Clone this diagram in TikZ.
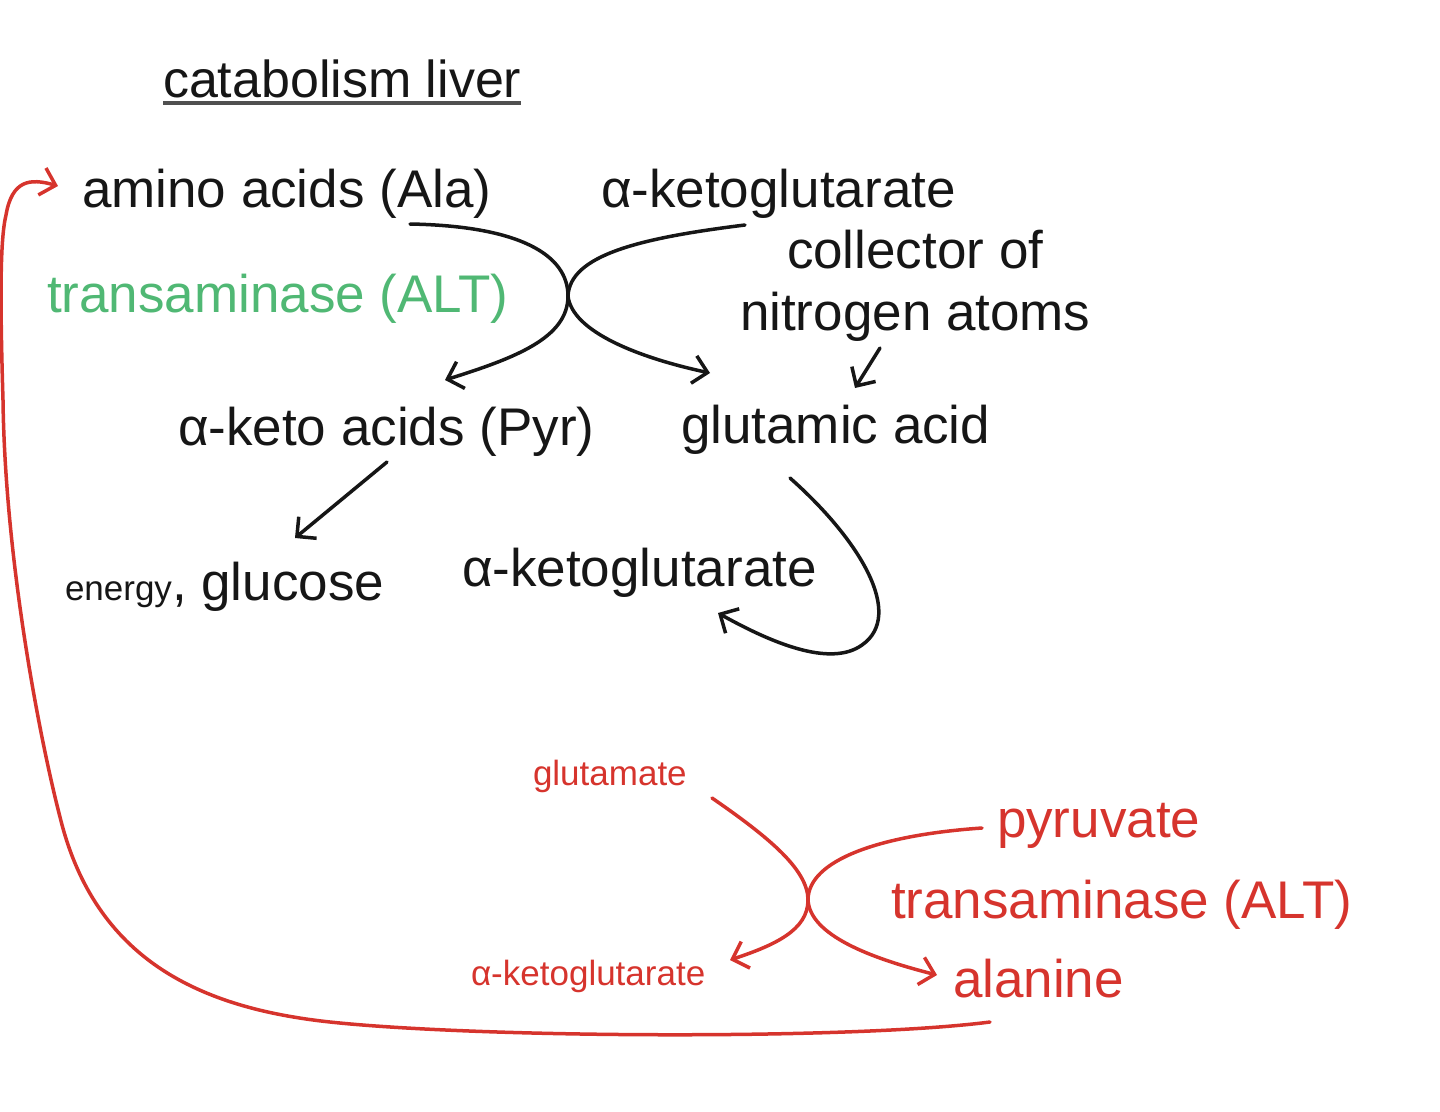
\documentclass[tikz,border=0pt]{standalone}
\usepackage{fontspec}
\setmainfont{Liberation Sans}
\usetikzlibrary{arrows.meta}
\definecolor{ink}{RGB}{22,22,22}
\definecolor{redink}{RGB}{214,52,45}
\definecolor{greenink}{RGB}{80,184,116}
\tikzset{
  lbl/.style={anchor=base west, inner sep=0pt, outer sep=0pt, text=ink, font=\fontsize{53}{60}\selectfont},
  smalltext/.style={font=\fontsize{35}{40}\selectfont},
  blk/.style={draw=ink, line width=3.5pt, line cap=round, -{Straight Barb[length=14pt,width=28pt]}},
  redline/.style={draw=redink, line width=3.5pt, line cap=round, -{Straight Barb[length=14pt,width=28pt]}},
}
\begin{document}
\begin{tikzpicture}[x=1pt,y=-1pt]
\useasboundingbox (0,0) rectangle (1440,1111);
% texts
\node[lbl, font=\fontsize{52}{58}\selectfont] (title) at (163,97) {catabolism liver};
\draw[draw=ink!75, line width=4pt] ([yshift=-6pt]title.base west) -- ([yshift=-6pt]title.base east);
\node[lbl] (aa) at (82,207) {amino acids (Ala)};
\node[lbl] (akg1) at (601,207) {α-ketoglutarate};
\node[lbl, text=greenink] (alt1) at (47,312) {transaminase (ALT)};
\node[lbl] (col1) at (787,268) {collector of};
\node[lbl] (col2) at (740,330) {nitrogen atoms};
\node[lbl] (kac) at (178,445) {α-keto acids (Pyr)};
\node[lbl] (glu) at (681,443) {glutamic acid};
\node[lbl] (gluc) at (65,600) {{\fontsize{35}{40}\selectfont energy}, glucose};
\node[lbl] (akg2) at (462,586) {α-ketoglutarate};
\node[lbl, text=redink, smalltext] (glut) at (533,785) {glutamate};
\node[lbl, text=redink] (pyr) at (997,837) {pyruvate};
\node[lbl, text=redink] (alt2) at (891,918) {transaminase (ALT)};
\node[lbl, text=redink] (ala) at (953,997) {alanine};
\node[lbl, text=redink, smalltext] (akg3) at (471,985) {α-ketoglutarate};
% connector points
\coordinate (aaOut) at (410,224);
\coordinate (akgOut) at (745,225);
\coordinate (cross1) at (568,296);
\coordinate (kacIn) at (445,380);
\coordinate (gluIn) at (710,373);
\coordinate (colOut) at (880,348);
\coordinate (colIn) at (855,388);
\coordinate (kacOut) at (387,462);
\coordinate (glucIn) at (295,538);
\coordinate (gluOut) at (790,478);
\coordinate (akg2In) at (718,613);
\coordinate (glutOut) at (712,798);
\coordinate (pyrOut) at (982,828);
\coordinate (cross2) at (808,900);
\coordinate (akg3In) at (730,960);
\coordinate (alaIn) at (937,975);
\coordinate (alaOut) at (990,1022);
\coordinate (aaIn) at (58,186);
% black connectors
\draw[blk] (aaOut) .. controls (520,226) and (568,255) .. (cross1) .. controls (568,338) and (515,358) .. (kacIn);
\draw[blk] (akgOut) .. controls (640,238) and (570,255) .. (cross1) .. controls (572,332) and (640,358) .. (gluIn);
\draw[blk] (colOut) -- (colIn);
\draw[blk] (kacOut) -- (glucIn);
\draw[blk] (gluOut) .. controls (860,540) and (905,615) .. (862,645) .. controls (830,668) and (770,642) .. (akg2In);
% red connectors
\draw[redline] (glutOut) .. controls (770,838) and (808,870) .. (cross2) .. controls (808,930) and (775,945) .. (akg3In);
\draw[redline] (pyrOut) .. controls (880,835) and (808,860) .. (cross2) .. controls (810,935) and (870,958) .. (alaIn);
\draw[redline] (alaOut) .. controls (850,1040) and (480,1038) .. (330,1022)
  .. controls (200,1008) and (95,960) .. (60,817)
  .. controls (40,740) and (5,560) .. (3,400)
  .. controls (0,300) and (0,240) .. (6,215)
  .. controls (12,180) and (30,178) .. (aaIn);
\end{tikzpicture}
\end{document}
